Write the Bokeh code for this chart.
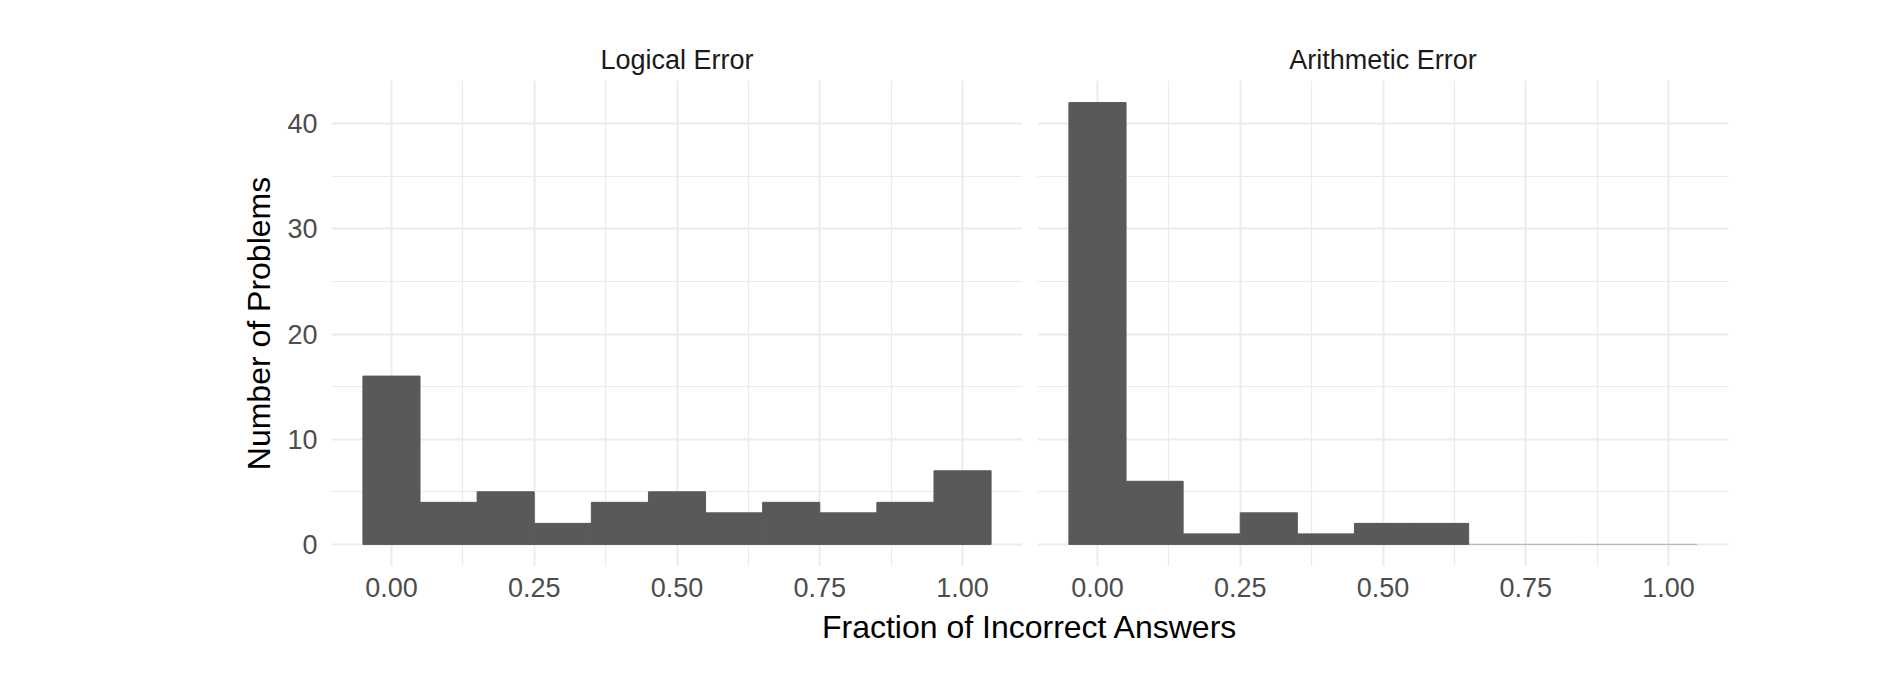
from bokeh.plotting import figure
from bokeh.models import Range1d, FixedTicker, ColumnDataSource, Label
from bokeh.layouts import row, column
from bokeh.embed import file_html
from bokeh.resources import INLINE

# ---- data ----
bin_centers = [0.0, 0.1, 0.2, 0.3, 0.4, 0.5, 0.6, 0.7, 0.8, 0.9, 1.0]
bin_width = 0.1
logical_counts = [16, 4, 5, 2, 4, 5, 3, 4, 3, 4, 7]
arithmetic_counts = [42, 6, 1, 3, 1, 2, 2, 0, 0, 0, 0]
panel_titles = ["Logical Error", "Arithmetic Error"]
x_ticks = [0.0, 0.25, 0.5, 0.75, 1.0]
x_tick_labels = ["0.00", "0.25", "0.50", "0.75", "1.00"]
x_minor = [0.125, 0.375, 0.625, 0.875]
y_ticks = [0, 10, 20, 30, 40]
y_tick_labels = ["0", "10", "20", "30", "40"]
y_minor = [5, 15, 25, 35]
x_title = "Fraction of Incorrect Answers"
y_title = "Number of Problems"

FONT = "Liberation Sans"
BAR = "#595959"
GRID = "#EBEBEB"

y_max = max(max(logical_counts), max(arithmetic_counts))
x_lo = bin_centers[0] - bin_width / 2
x_hi = bin_centers[-1] + bin_width / 2
xpad = (x_hi - x_lo) * 0.05
ypad = y_max * 0.05


def panel(title, counts, width, border_left, border_right, show_y):
    p = figure(width=width, height=608, output_backend="svg", toolbar_location=None,
               x_range=Range1d(x_lo - xpad, x_hi + xpad),
               y_range=Range1d(-ypad, y_max + ypad),
               min_border_left=border_left, min_border_right=border_right,
               min_border_top=80, min_border_bottom=42,
               background_fill_color="white", border_fill_color="white")
    p.outline_line_color = None
    p.title.text = title
    p.title.align = "center"
    p.title.text_font = FONT
    p.title.text_font_size = "27px"
    p.title.text_font_style = "normal"
    p.title.text_color = "#1A1A1A"
    p.title.standoff = 12

    src = ColumnDataSource(dict(
        left=[c - bin_width / 2 for c in bin_centers],
        right=[c + bin_width / 2 for c in bin_centers],
        top=counts,
        bottom=[0] * len(counts),
        edge_alpha=[1.0 if c > 0 else 0.22 for c in counts]))
    p.quad(left="left", right="right", top="top", bottom="bottom", source=src,
           fill_color=BAR, line_color=BAR, line_alpha="edge_alpha", line_width=1)

    p.xaxis.ticker = FixedTicker(ticks=x_ticks, minor_ticks=x_minor)
    p.xaxis.major_label_overrides = dict(zip(x_ticks, x_tick_labels))
    p.yaxis.ticker = FixedTicker(ticks=y_ticks, minor_ticks=y_minor)
    p.yaxis.major_label_overrides = dict(zip(y_ticks, y_tick_labels))

    for ax in (p.xaxis[0], p.yaxis[0]):
        ax.axis_line_color = None
        ax.major_tick_line_color = None
        ax.minor_tick_line_color = None
        ax.major_tick_out = 0
        ax.major_tick_in = 0
        ax.minor_tick_out = 0
        ax.minor_tick_in = 0
        ax.major_label_text_font = FONT
        ax.major_label_text_font_size = "27px"
        ax.major_label_text_color = "#4D4D4D"
    p.xaxis.major_label_standoff = 11
    p.yaxis.major_label_standoff = 14

    if show_y:
        p.yaxis.axis_label = y_title
        p.yaxis.axis_label_text_font = FONT
        p.yaxis.axis_label_text_font_size = "32px"
        p.yaxis.axis_label_text_font_style = "normal"
        p.yaxis.axis_label_text_color = "black"
        p.yaxis.axis_label_standoff = 7
    else:
        p.yaxis.visible = False

    for g in (p.xgrid[0], p.ygrid[0]):
        g.grid_line_color = GRID
        g.grid_line_width = 2
        g.minor_grid_line_color = GRID
        g.minor_grid_line_width = 1.2
    return p


p1 = panel(panel_titles[0], logical_counts, 1030, 331, 8, True)
p2 = panel(panel_titles[1], arithmetic_counts, 718, 7, 20, False)

p3 = figure(width=1748, height=36, output_backend="svg", toolbar_location=None,
            x_range=Range1d(0, 1), y_range=Range1d(0, 1),
            x_axis_type=None, y_axis_type=None,
            min_border_left=331, min_border_right=20,
            min_border_top=0, min_border_bottom=0,
            background_fill_color="white", border_fill_color="white")
p3.outline_line_color = None
p3.add_layout(Label(x=0.5, y=0.5, text=x_title, text_align="center",
                    text_baseline="middle", text_font=FONT,
                    text_font_size="32px", text_color="black"))

layout = column(row(p1, p2), p3)
open("out.html", "w").write(file_html(layout, INLINE))
